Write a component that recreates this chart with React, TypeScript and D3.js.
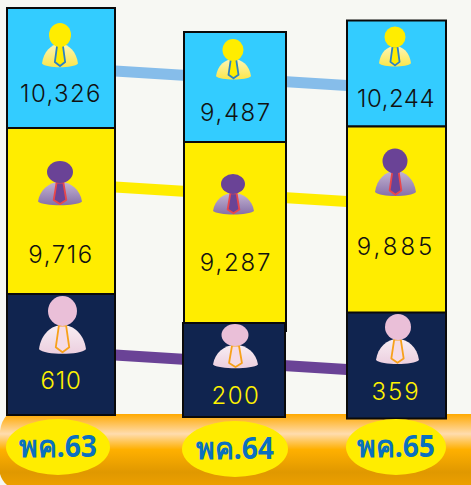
import React from 'react';
import * as d3 from 'd3';

const months = ['พค.63', 'พค.64', 'พค.65'];
const bachelors = [10326, 9487, 10244];
const masters = [9716, 9287, 9885];
const doctors = [610, 200, 359];

// the boxes are an infographic, their heights do not follow the values
const boxLeft = [7, 184, 347];
const boxRight = [115, 286, 446];
const boxBottom = [415, 417, 418.5];
const boxHeights = [
  [120, 110, 106],
  [166, 181, 186],
  [121, 94, 106],
];
const yellowUnder = [36, 8, 13];
const navyShift = [0, -1, 0];

const lineY = [71, 187, 355];
const lineColors = ['#86bdea', '#ffed00', '#6a4396'];
const boxColors = ['#33ccff', '#ffed00', '#10244f'];
const textColors = ['#111111', '#111111', '#fff200'];
const textBase = [
  [102, 121, 107],
  [263, 271, 255],
  [389, 404, 400],
];
const textCenter = [61, 236, 396];
const textSpacing = [
  [1.4, 1.6, 0.5],
  [1.6, 1.8, 3],
  [0.8, 1.5, 2],
];

// head x, head y, head rx, head ry, body left, body right, body top, body bottom
const icons = [
  [
    [60, 35, 11, 12, 42, 78, 44, 69],
    [233, 50, 10.5, 11, 216, 251, 59, 81],
    [395, 37, 10.5, 10.5, 379, 411, 46, 68],
  ],
  [
    [60, 172, 13, 11, 38, 82, 182, 207],
    [233, 184, 12, 10, 213, 254, 193, 216],
    [395, 161, 12.5, 12.5, 375, 416, 171, 198],
  ],
  [
    [62.5, 311, 14.5, 15, 39, 86, 325, 356],
    [235, 335, 13.5, 11, 213, 258, 345, 370],
    [398, 327, 13, 13, 376, 419, 339, 366],
  ],
];
const headColors = ['#ffed00', '#6a4396', '#eabfd8'];
const tieColors = ['#2b82c4', '#e8474c', '#f7a11a'];
const tieFill = ['#ffed00', '#6a4396', '#f5dbe6'];

const ellipseX = [58, 235, 396];
const ellipseY = [447, 449, 447];
const ellipseRx = [52, 53, 50];

const series = [bachelors, masters, doctors];

const Person = ({ box, kind }: { box: number[]; kind: number }) => {
  const [hx, hy, hrx, hry, l, r, t, b] = box;
  const cx = (l + r) / 2;
  const w = r - l;
  const h = b - t;
  const body = d3.path();
  body.moveTo(l, b - h * 0.22);
  body.bezierCurveTo(l + w * 0.04, t + h * 0.3, l + w * 0.26, t, cx, t);
  body.bezierCurveTo(r - w * 0.26, t, r - w * 0.04, t + h * 0.3, r, b - h * 0.22);
  body.bezierCurveTo(r - w * 0.12, b - h * 0.02, l + w * 0.12, b - h * 0.02, l, b - h * 0.22);
  body.closePath();
  const tw = w * 0.11;
  const tieTop = t + h * 0.02;
  const tieEnd = b - h * 0.12;
  const tie = [
    [cx - tw * 0.7, tieTop],
    [cx + tw * 0.7, tieTop],
    [cx + tw * 1.3, tieEnd - h * 0.16],
    [cx, tieEnd],
    [cx - tw * 1.3, tieEnd - h * 0.16],
  ];
  return (
    <g>
      <path d={body.toString()} fill={`url(#body${kind})`} />
      <path
        d={d3.line().curve(d3.curveLinearClosed)(tie as [number, number][]) ?? ''}
        fill={tieFill[kind]}
        stroke={tieColors[kind]}
        strokeWidth={1.8}
        strokeLinejoin="round"
      />
      <ellipse cx={hx} cy={hy} rx={hrx} ry={hry} fill={headColors[kind]} />
    </g>
  );
};

export default function App() {
  const width = 471;
  const height = 485;
  const numFmt = d3.format(',');
  const line = d3.line<number>();
  const lineX = d3.scaleLinear().domain([0, 2]).range([boxRight[0], boxLeft[2]]);
  const slope = 0.0628;
  const base = d3.path();
  base.moveTo(width, 414);
  base.lineTo(8, 414);
  base.quadraticCurveTo(1, 421, 0, 431);
  base.lineTo(0, 474);
  base.quadraticCurveTo(2, 481, 7, height);
  base.lineTo(width, height);
  base.closePath();

  return (
    <svg
      width={width}
      height={height}
      viewBox={`0 0 ${width} ${height}`}
      style={{ position: 'absolute', left: 0, top: 0, background: '#f7f8f3' }}
    >
      <defs>
        <linearGradient id="gold" x1="0" x2="0" y1="0" y2="1">
          <stop offset="0%" stopColor="#ffa900" />
          <stop offset="28%" stopColor="#ffdcae" />
          <stop offset="50%" stopColor="#ffb000" />
          <stop offset="82%" stopColor="#e09800" />
          <stop offset="100%" stopColor="#ec9f00" />
        </linearGradient>
        <linearGradient id="body0" x1="0" x2="0" y1="0" y2="1">
          <stop offset="0%" stopColor="#fdf6b8" />
          <stop offset="100%" stopColor="#fbe64a" />
        </linearGradient>
        <linearGradient id="body1" x1="0" x2="0" y1="0" y2="1">
          <stop offset="0%" stopColor="#c4b4d2" />
          <stop offset="100%" stopColor="#8670a8" />
        </linearGradient>
        <linearGradient id="body2" x1="0" x2="0" y1="0" y2="1">
          <stop offset="0%" stopColor="#f8eef3" />
          <stop offset="100%" stopColor="#eccfdf" />
        </linearGradient>
      </defs>

      {lineY.map((y, i) => (
        <path
          key={i}
          d={
            line.x((_, k) => lineX(k)).y((_, k) => y + slope * (lineX(k) - boxRight[0]))([0, 1, 2]) ?? ''
          }
          fill="none"
          stroke={lineColors[i]}
          strokeWidth={11}
        />
      ))}

      <path d={base.toString()} fill="url(#gold)" />

      {months.map((m, c) => {
        const x = boxLeft[c];
        const w = boxRight[c] - boxLeft[c];
        const navyTop = boxBottom[c] - boxHeights[2][c];
        const yellowTop = navyTop - boxHeights[1][c];
        const blueTop = yellowTop - boxHeights[0][c];
        const tops = [blueTop, yellowTop, navyTop];
        return (
          <g key={m}>
            {series.map((_, s) => (
              <rect
                key={s}
                x={s === 2 ? x + navyShift[c] : x}
                y={tops[s]}
                width={w}
                height={boxHeights[s][c] + (s === 1 ? yellowUnder[c] : 0)}
                fill={boxColors[s]}
                stroke="#0a0a0a"
                strokeWidth={2}
              />
            ))}
            {series.map((vals, s) => (
              <g key={s}>
                <Person box={icons[s][c]} kind={s} />
                <text
                  x={textCenter[c]}
                  y={textBase[s][c]}
                  textAnchor="middle"
                  fontFamily="Inter, 'DejaVu Sans', sans-serif"
                  fontWeight={300}
                  fontSize={24}
                  letterSpacing={textSpacing[s][c]}
                  fill={textColors[s]}
                >
                  {numFmt(vals[c])}
                </text>
              </g>
            ))}
            <ellipse cx={ellipseX[c]} cy={ellipseY[c]} rx={ellipseRx[c]} ry={28} fill="#ffed00" />
            <text
              x={ellipseX[c]}
              y={ellipseY[c] + 9.5}
              textAnchor="middle"
              fontFamily="'Noto Sans', 'DejaVu Sans', sans-serif"
              fontWeight={700}
              fontSize={30}
              textLength={78}
              lengthAdjust="spacingAndGlyphs"
              fill="#0a70c0"
            >
              {m}
            </text>
          </g>
        );
      })}
    </svg>
  );
}
